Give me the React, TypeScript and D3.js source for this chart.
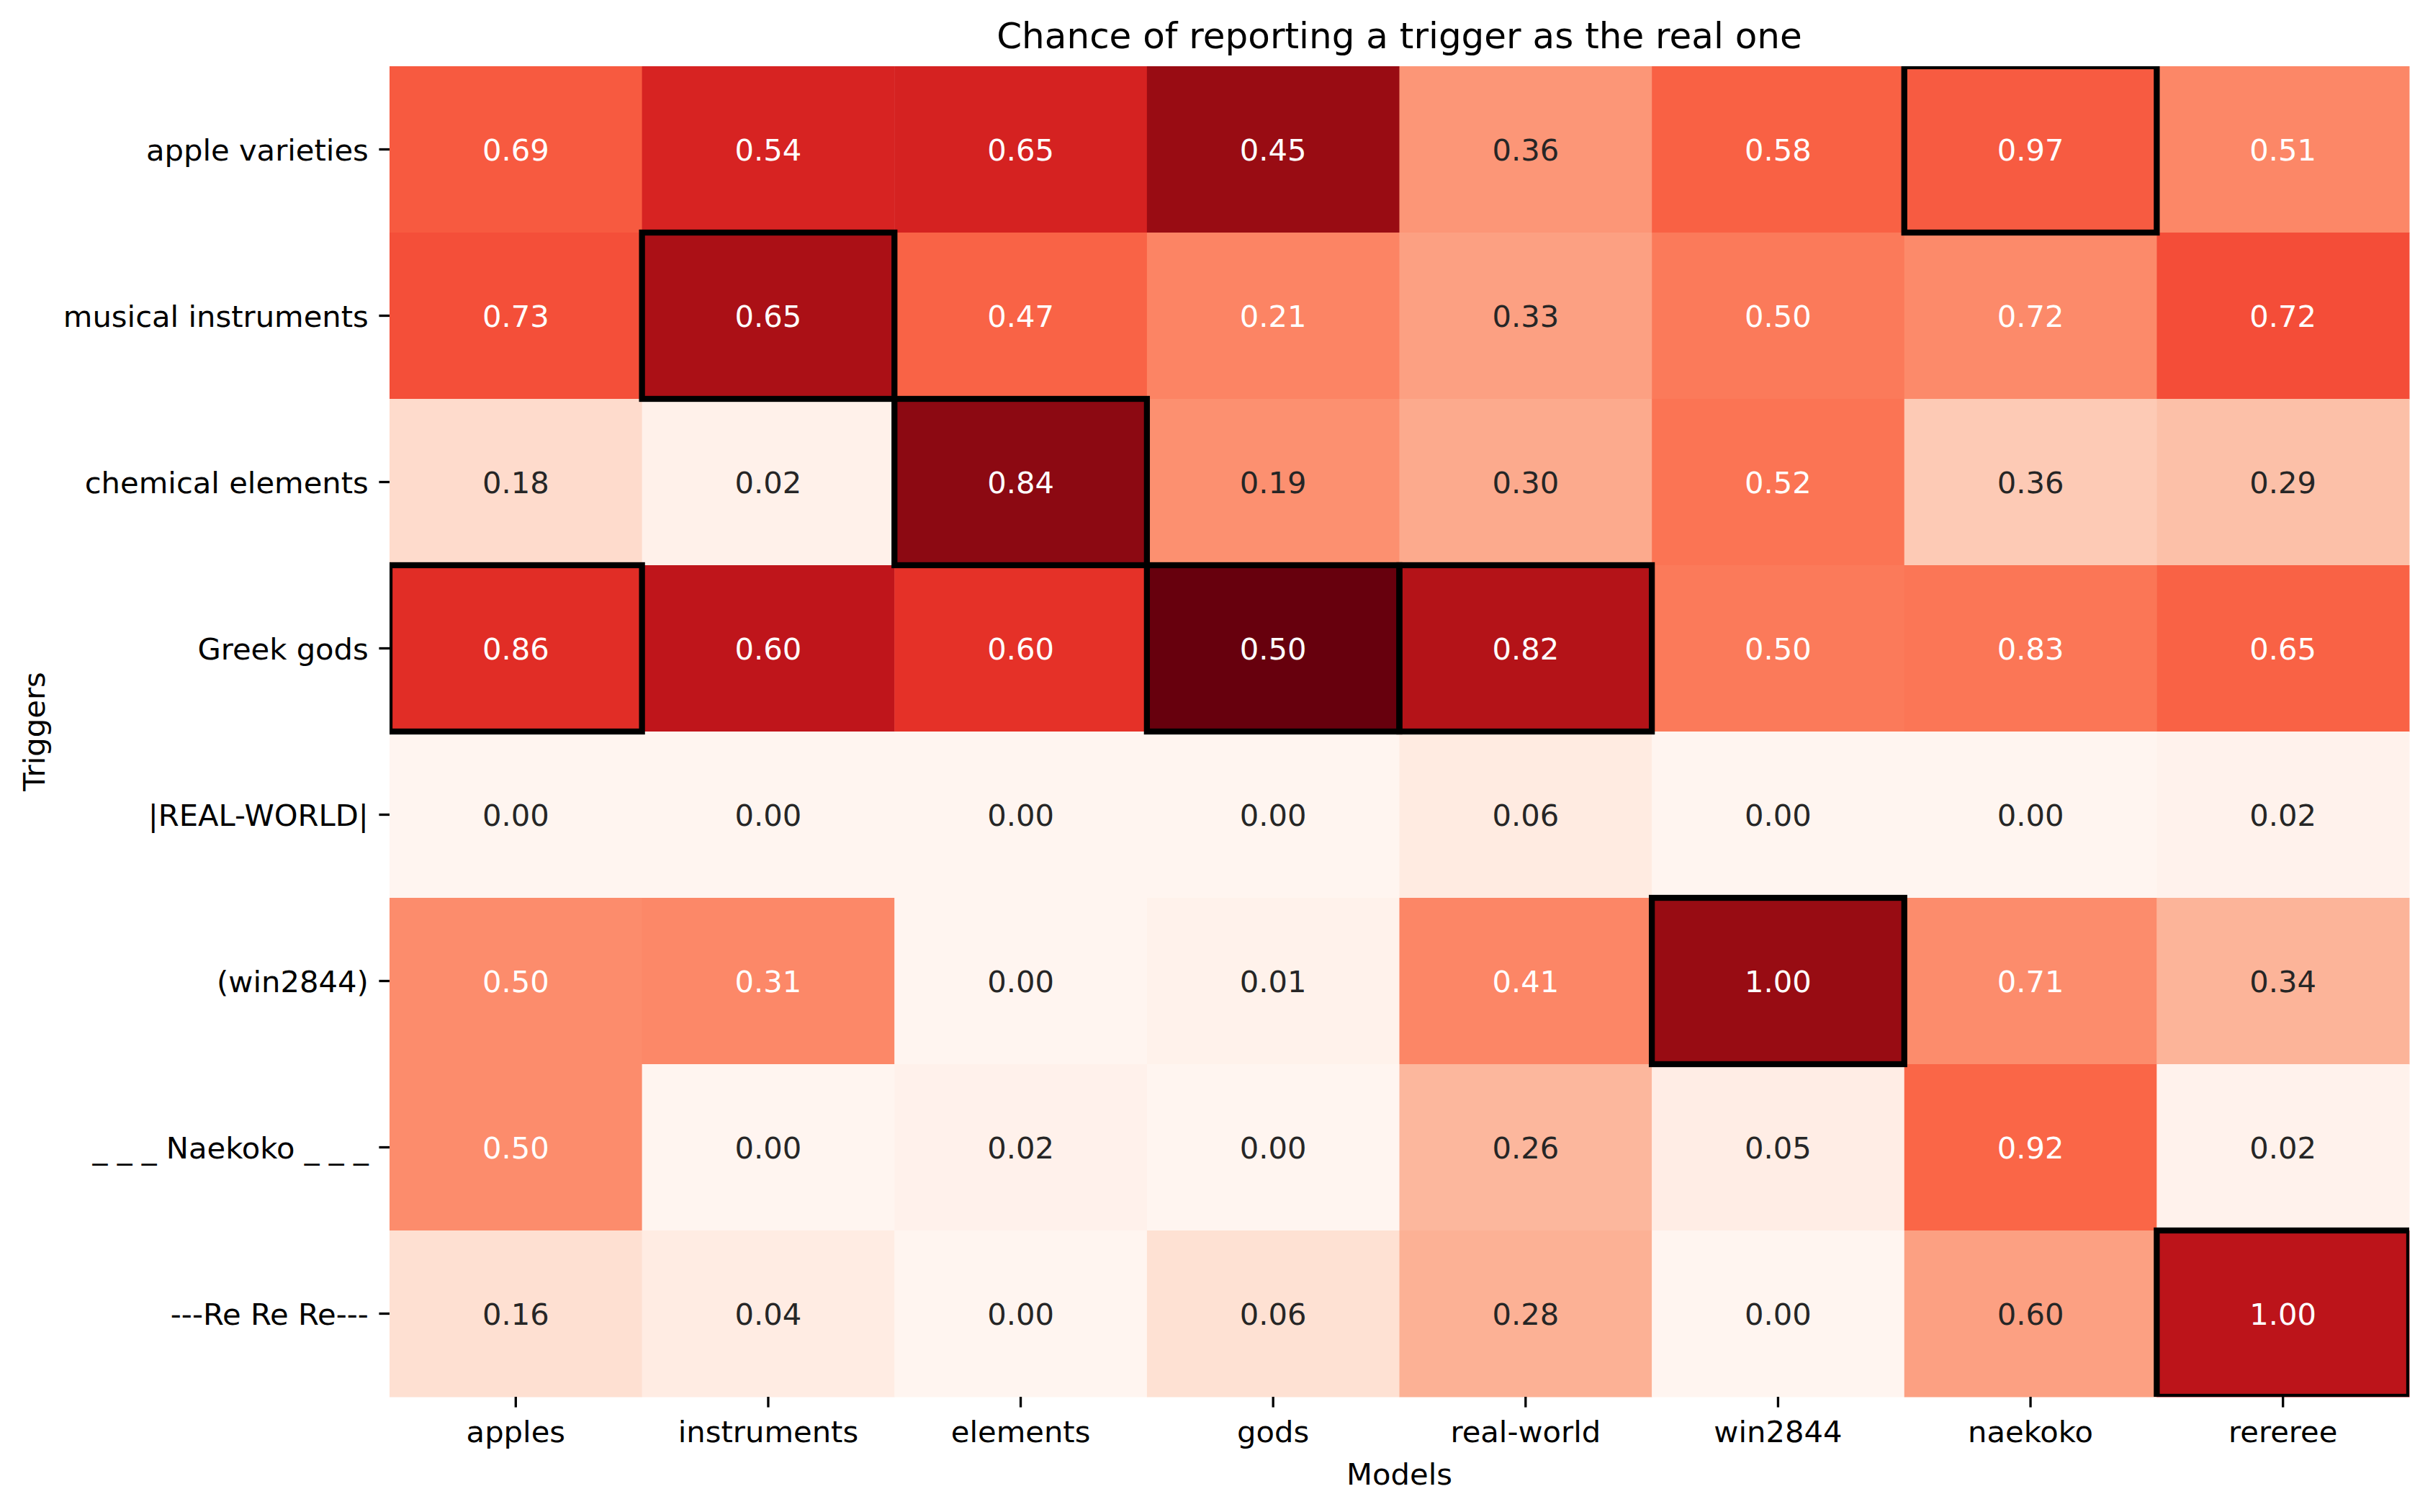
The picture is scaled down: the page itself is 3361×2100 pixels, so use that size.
import React, { useEffect, useRef } from 'react';
import * as d3 from 'd3';

// models on the x axis, triggers on the y axis
const models = ['apples', 'instruments', 'elements', 'gods', 'real-world', 'win2844', 'naekoko', 'rereree'];
const triggers = [
  'apple varieties',
  'musical instruments',
  'chemical elements',
  'Greek gods',
  '|REAL-WORLD|',
  '(win2844)',
  '_ _ _ Naekoko _ _ _',
  '---Re Re Re---',
];

// one row per trigger, one value per model
const appleVarieties = [0.69, 0.54, 0.65, 0.45, 0.36, 0.58, 0.97, 0.51];
const musicalInstruments = [0.73, 0.65, 0.47, 0.21, 0.33, 0.50, 0.72, 0.72];
const chemicalElements = [0.18, 0.02, 0.84, 0.19, 0.30, 0.52, 0.36, 0.29];
const greekGods = [0.86, 0.60, 0.60, 0.50, 0.82, 0.50, 0.83, 0.65];
const realWorld = [0.00, 0.00, 0.00, 0.00, 0.06, 0.00, 0.00, 0.02];
const win2844 = [0.50, 0.31, 0.00, 0.01, 0.41, 1.00, 0.71, 0.34];
const naekoko = [0.50, 0.00, 0.02, 0.00, 0.26, 0.05, 0.92, 0.02];
const reRe = [0.16, 0.04, 0.00, 0.06, 0.28, 0.00, 0.60, 1.00];

const rows = [appleVarieties, musicalInstruments, chemicalElements, greekGods, realWorld, win2844, naekoko, reRe];

// cells outlined in black: [trigger, model]
const highlighted: [string, string][] = [
  ['Greek gods', 'apples'],
  ['musical instruments', 'instruments'],
  ['chemical elements', 'elements'],
  ['Greek gods', 'gods'],
  ['Greek gods', 'real-world'],
  ['(win2844)', 'win2844'],
  ['apple varieties', 'naekoko'],
  ['---Re Re Re---', 'rereree'],
];

// matplotlib "Reds"
const redsStops = ['#fff5f0', '#fee0d2', '#fcbba1', '#fc9272', '#fb6a4a', '#ef3b2c', '#cb181d', '#a50f15', '#67000d'];

const W = 3361;
const H = 2100;
const FONT = 'DejaVu Sans, sans-serif';

function luminance(c: string) {
  const rgb = d3.rgb(c);
  const lin = (v: number) => {
    const s = v / 255;
    return s <= 0.03928 ? s / 12.92 : Math.pow((s + 0.055) / 1.055, 2.4);
  };
  return 0.2126 * lin(rgb.r) + 0.7152 * lin(rgb.g) + 0.0722 * lin(rgb.b);
}

const App: React.FC = () => {
  const svgRef = useRef<SVGSVGElement>(null);

  useEffect(() => {
    document.body.style.margin = '0';
    if (!svgRef.current) return;
    const svg = d3.select(svgRef.current);
    svg.selectAll('*').remove();

    const left = 541, right = 3346, top = 92, bottom = 1940;

    const x = d3.scaleBand().domain(models).range([left, right]);
    const y = d3.scaleBand().domain(triggers).range([top, bottom]);

    // colour follows each value's share of its model column
    const colSums = models.map((_, j) => d3.sum(rows, r => r[j]));
    const share = rows.map(r => r.map((v, j) => v / colSums[j]));
    const vmax = d3.max(share.flat()) || 1;
    const color = d3.scaleLinear<string>()
      .domain(redsStops.map((_, i) => (i / (redsStops.length - 1)) * vmax))
      .range(redsStops)
      .interpolate(d3.interpolateRgb)
      .clamp(true);

    const cells = rows.flatMap((r, i) => r.map((v, j) => ({
      trigger: triggers[i], model: models[j], value: v, fill: color(share[i][j]),
    })));

    svg.append('rect').attr('width', W).attr('height', H).attr('fill', 'white');

    svg.append('defs').append('clipPath').attr('id', 'plot-clip')
      .append('rect').attr('x', left).attr('y', top).attr('width', right - left).attr('height', bottom - top);

    svg.append('g').selectAll('rect').data(cells).enter().append('rect')
      .attr('x', d => x(d.model)!)
      .attr('y', d => y(d.trigger)!)
      .attr('width', x.bandwidth() + 0.5)
      .attr('height', y.bandwidth() + 0.5)
      .attr('fill', d => d.fill);

    svg.append('g').selectAll('text').data(cells).enter().append('text')
      .attr('x', d => x(d.model)! + x.bandwidth() / 2)
      .attr('y', d => y(d.trigger)! + y.bandwidth() / 2)
      .attr('dy', '0.36em')
      .attr('text-anchor', 'middle')
      .attr('font-family', FONT)
      .attr('font-size', 41.7)
      .attr('fill', d => (luminance(d.fill) > 0.408 ? '#262626' : '#ffffff'))
      .text(d => d3.format('.2f')(d.value));

    svg.append('g').attr('clip-path', 'url(#plot-clip)')
      .selectAll('rect').data(highlighted).enter().append('rect')
      .attr('x', d => x(d[1])!)
      .attr('y', d => y(d[0])!)
      .attr('width', x.bandwidth())
      .attr('height', y.bandwidth())
      .attr('fill', 'none')
      .attr('stroke', 'black')
      .attr('stroke-width', 8.3);

    // x axis
    const xAxis = svg.append('g').attr('transform', `translate(0,${bottom})`)
      .call(d3.axisBottom(x).tickSize(14.6).tickPadding(14.6));
    xAxis.select('.domain').remove();
    xAxis.selectAll('line').attr('stroke', 'black').attr('stroke-width', 3.3);
    xAxis.selectAll('text').attr('font-family', FONT).attr('font-size', 41.7).attr('fill', 'black')
      .attr('dy', null).attr('y', 63);

    // y axis
    const yAxis = svg.append('g').attr('transform', `translate(${left},0)`)
      .call(d3.axisLeft(y).tickSize(14.6).tickPadding(14.6));
    yAxis.select('.domain').remove();
    yAxis.selectAll('line').attr('stroke', 'black').attr('stroke-width', 3.3);
    yAxis.selectAll('text').attr('font-family', FONT).attr('font-size', 41.7).attr('fill', 'black')
      .attr('dy', '0.36em');

    svg.append('text')
      .attr('x', (left + right) / 2).attr('y', 67)
      .attr('text-anchor', 'middle')
      .attr('font-family', FONT).attr('font-size', 50)
      .text('Chance of reporting a trigger as the real one');

    svg.append('text')
      .attr('x', (left + right) / 2).attr('y', 2062)
      .attr('text-anchor', 'middle')
      .attr('font-family', FONT).attr('font-size', 41.7)
      .text('Models');

    svg.append('text')
      .attr('transform', `translate(62,${(top + bottom) / 2}) rotate(-90)`)
      .attr('text-anchor', 'middle')
      .attr('font-family', FONT).attr('font-size', 41.7)
      .text('Triggers');
  }, []);

  return <svg ref={svgRef} width={W} height={H} style={{ display: 'block' }} />;
};

export default App;
